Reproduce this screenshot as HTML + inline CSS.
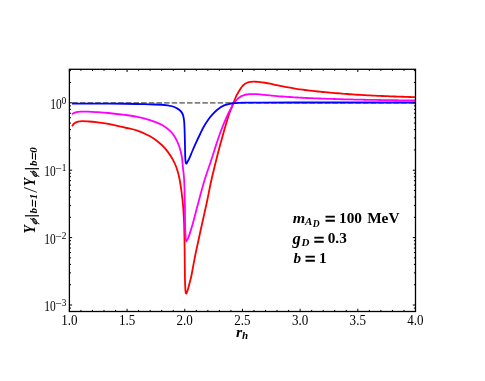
<!DOCTYPE html>
<html><head><meta charset="utf-8"><title>plot</title>
<style>
html,body{margin:0;padding:0;background:#fff;}
body{width:485px;height:381px;overflow:hidden;font-family:"Liberation Serif",serif;}
svg{display:block;will-change:transform;}
text{font-family:"Liberation Serif",serif;fill:#000;}
</style></head><body>
<svg width="485" height="381" viewBox="0 0 485 381">
<rect width="485" height="381" fill="#fff"/>
<defs><clipPath id="cp"><rect x="69.4" y="69.3" width="346.1" height="242.2"/></clipPath></defs>
<g clip-path="url(#cp)" fill="none" stroke-linejoin="round">
<path d="M64.65,102.9H415.5" stroke="#808080" stroke-width="1.9" stroke-dasharray="5.5,2.15"/>
<path d="M72.05,126.30C72.26,125.98 72.82,124.97 73.30,124.40C73.78,123.84 74.12,123.37 74.90,122.91C75.68,122.45 76.77,121.92 78.00,121.62C79.23,121.33 80.63,121.16 82.30,121.14C83.97,121.11 85.73,121.28 88.00,121.46C90.27,121.63 92.52,121.78 95.90,122.19C99.28,122.59 103.45,122.99 108.30,123.88C113.15,124.78 120.15,126.43 125.00,127.55C129.85,128.67 133.23,129.16 137.40,130.60C141.57,132.04 146.67,134.43 150.00,136.20C153.33,137.97 154.92,139.22 157.40,141.20C159.88,143.18 162.63,145.50 164.90,148.05C167.17,150.61 169.35,153.95 171.00,156.52C172.65,159.09 173.71,161.10 174.80,163.50C175.89,165.90 176.73,168.15 177.55,170.90C178.38,173.65 179.07,176.42 179.75,180.00C180.43,183.58 181.06,188.27 181.60,192.40C182.14,196.53 182.63,200.68 183.00,204.80C183.37,208.92 183.61,213.73 183.80,217.10C183.99,220.47 184.03,220.58 184.15,225.00C184.28,229.42 184.44,236.93 184.55,243.60C184.66,250.27 184.74,259.60 184.80,265.00C184.86,270.40 184.84,272.67 184.90,276.00C184.96,279.33 185.07,282.67 185.15,285.00C185.23,287.33 185.31,288.73 185.40,290.00C185.49,291.27 185.57,292.00 185.70,292.60C185.83,293.20 186.02,293.57 186.20,293.60C186.38,293.63 186.58,293.27 186.80,292.80C187.02,292.33 187.20,291.77 187.50,290.80C187.80,289.83 188.20,288.50 188.60,287.00C189.00,285.50 189.44,283.63 189.90,281.80C190.36,279.97 190.77,278.80 191.35,276.00C191.93,273.20 192.71,268.67 193.40,265.00C194.09,261.33 194.91,256.95 195.50,254.00C196.09,251.05 195.90,252.13 196.95,247.30C198.00,242.47 200.15,232.50 201.80,225.00C203.45,217.50 205.25,209.80 206.85,202.30C208.45,194.80 209.62,187.88 211.40,180.00C213.18,172.12 215.92,161.30 217.50,155.00C219.08,148.70 219.70,146.60 220.90,142.20C222.10,137.80 223.45,132.93 224.70,128.60C225.95,124.27 227.41,119.30 228.40,116.20C229.39,113.10 230.07,111.52 230.65,110.00C231.23,108.48 231.34,108.50 231.90,107.10C232.46,105.70 233.32,103.37 234.00,101.60C234.68,99.83 235.50,97.68 236.00,96.50C236.50,95.32 236.63,95.17 237.00,94.50C237.37,93.83 237.79,93.17 238.20,92.50C238.61,91.83 239.03,91.17 239.45,90.50C239.87,89.83 240.26,89.17 240.70,88.50C241.14,87.83 241.52,87.17 242.10,86.50C242.68,85.83 243.55,85.03 244.20,84.50C244.85,83.97 245.37,83.65 246.00,83.30C246.63,82.95 247.25,82.62 248.00,82.40C248.75,82.18 249.48,82.08 250.50,81.95C251.52,81.83 253.02,81.67 254.10,81.65C255.18,81.63 256.02,81.78 257.00,81.85C257.98,81.92 258.67,81.89 260.00,82.05C261.33,82.20 263.33,82.49 265.00,82.76C266.67,83.03 268.33,83.33 270.00,83.67C271.67,84.00 273.33,84.41 275.00,84.77C276.67,85.13 278.33,85.49 280.00,85.83C281.67,86.17 283.33,86.50 285.00,86.82C286.67,87.14 288.33,87.44 290.00,87.73C291.67,88.02 293.33,88.30 295.00,88.56C296.67,88.83 298.33,89.08 300.00,89.32C301.67,89.56 303.33,89.78 305.00,90.00C306.67,90.22 308.33,90.43 310.00,90.63C311.67,90.83 313.33,91.02 315.00,91.20C316.67,91.38 318.33,91.56 320.00,91.72C321.67,91.89 323.33,92.05 325.00,92.20C326.67,92.36 328.33,92.50 330.00,92.64C331.67,92.79 333.33,92.92 335.00,93.05C336.67,93.18 338.33,93.31 340.00,93.43C341.67,93.55 343.33,93.64 345.00,93.78C346.67,93.91 348.33,94.11 350.00,94.23C351.67,94.36 353.33,94.42 355.00,94.54C356.67,94.65 358.33,94.83 360.00,94.94C361.67,95.05 363.33,95.12 365.00,95.20C366.67,95.29 368.33,95.37 370.00,95.45C371.67,95.53 373.33,95.61 375.00,95.69C376.67,95.76 378.33,95.83 380.00,95.91C381.67,95.98 383.33,96.05 385.00,96.11C386.67,96.18 388.33,96.25 390.00,96.31C391.67,96.37 393.33,96.43 395.00,96.49C396.67,96.55 398.33,96.61 400.00,96.67C401.67,96.73 403.33,96.78 405.00,96.83C406.67,96.89 408.33,96.94 410.00,96.99C411.67,97.04 414.07,97.11 415.00,97.14C415.93,97.17 415.50,97.16 415.60,97.16" stroke="#ff0000" stroke-width="1.8"/>
<path d="M72.05,114.25C72.29,114.08 73.01,113.54 73.50,113.25C73.99,112.97 74.25,112.79 75.00,112.56C75.75,112.32 76.98,112.03 78.00,111.86C79.02,111.70 79.43,111.60 81.10,111.57C82.77,111.54 85.53,111.59 88.00,111.68C90.47,111.77 92.52,111.87 95.90,112.09C99.28,112.31 103.45,112.53 108.30,113.00C113.15,113.47 120.15,114.26 125.00,114.90C129.85,115.54 133.27,115.97 137.40,116.83C141.53,117.69 145.68,118.68 149.80,120.04C153.92,121.40 158.67,123.14 162.10,125.00C165.53,126.87 168.25,129.18 170.40,131.22C172.55,133.26 173.68,135.12 175.00,137.25C176.32,139.38 177.35,141.62 178.30,144.00C179.25,146.38 180.08,149.15 180.70,151.50C181.32,153.85 181.59,155.07 182.00,158.10C182.41,161.13 182.79,166.05 183.15,169.70C183.51,173.35 183.86,174.15 184.15,180.00C184.44,185.85 184.74,197.30 184.90,204.80C185.06,212.30 184.97,219.57 185.10,225.00C185.22,230.43 185.51,234.87 185.65,237.40C185.79,239.93 185.83,239.55 185.95,240.20C186.07,240.85 186.19,241.25 186.35,241.30C186.51,241.35 186.69,240.87 186.90,240.50C187.11,240.13 187.32,239.68 187.60,239.10C187.88,238.52 187.80,239.35 188.60,237.00C189.40,234.65 190.77,230.78 192.40,225.00C194.03,219.22 196.37,209.80 198.40,202.30C200.43,194.80 202.57,186.68 204.60,180.00C206.62,173.32 209.17,166.37 210.55,162.20C211.93,158.03 211.89,158.13 212.90,155.00C213.91,151.87 215.27,147.40 216.60,143.40C217.93,139.40 219.35,135.12 220.90,131.00C222.45,126.88 224.67,121.62 225.90,118.70C227.13,115.78 227.47,115.22 228.30,113.50C229.13,111.78 230.05,110.05 230.90,108.40C231.75,106.75 232.55,104.88 233.40,103.60C234.25,102.32 235.23,101.52 236.00,100.70C236.77,99.88 237.32,99.32 238.00,98.70C238.68,98.08 239.43,97.47 240.10,97.00C240.77,96.53 241.32,96.23 242.00,95.90C242.68,95.58 243.45,95.28 244.20,95.05C244.95,94.82 245.67,94.65 246.50,94.50C247.33,94.35 248.12,94.22 249.20,94.15C250.28,94.08 251.70,94.09 253.00,94.10C254.30,94.11 255.50,94.13 257.00,94.20C258.50,94.27 260.33,94.38 262.00,94.53C263.67,94.67 265.33,94.91 267.00,95.09C268.67,95.27 270.33,95.44 272.00,95.60C273.67,95.77 275.33,95.92 277.00,96.06C278.67,96.21 280.33,96.35 282.00,96.48C283.67,96.61 285.33,96.73 287.00,96.84C288.67,96.96 290.33,97.07 292.00,97.18C293.67,97.28 295.33,97.38 297.00,97.48C298.67,97.57 300.33,97.66 302.00,97.75C303.67,97.83 305.33,97.91 307.00,97.99C308.67,98.07 310.33,98.14 312.00,98.22C313.67,98.29 315.33,98.36 317.00,98.42C318.67,98.49 320.33,98.55 322.00,98.61C323.67,98.67 325.33,98.73 327.00,98.78C328.67,98.84 330.33,98.89 332.00,98.94C333.67,98.99 335.33,99.04 337.00,99.09C338.67,99.14 340.33,99.18 342.00,99.23C343.67,99.27 345.33,99.31 347.00,99.35C348.67,99.40 350.33,99.44 352.00,99.47C353.67,99.51 355.33,99.55 357.00,99.59C358.67,99.62 360.33,99.66 362.00,99.69C363.67,99.72 365.33,99.76 367.00,99.79C368.67,99.82 370.33,99.85 372.00,99.88C373.67,99.91 375.33,99.94 377.00,99.97C378.67,99.99 380.33,100.02 382.00,100.05C383.67,100.08 385.33,100.10 387.00,100.13C388.67,100.15 390.33,100.18 392.00,100.20C393.67,100.22 395.33,100.25 397.00,100.27C398.67,100.29 400.33,100.31 402.00,100.34C403.67,100.36 405.33,100.38 407.00,100.40C408.67,100.42 410.57,100.44 412.00,100.46C413.43,100.47 415.00,100.49 415.60,100.50" stroke="#ff00ff" stroke-width="1.8"/>
<path d="M72.00,103.70C75.00,103.70 83.67,103.70 90.00,103.70C96.33,103.70 104.17,103.69 110.00,103.70C115.83,103.71 120.50,103.70 125.00,103.75C129.50,103.80 132.87,103.89 137.00,104.00C141.13,104.11 145.62,104.28 149.80,104.40C153.98,104.53 158.40,104.44 162.10,104.75C165.80,105.06 169.45,105.61 172.00,106.25C174.55,106.89 175.97,107.81 177.40,108.60C178.83,109.39 179.73,110.10 180.60,111.00C181.47,111.90 182.10,112.92 182.60,114.00C183.10,115.08 183.33,116.17 183.60,117.50C183.87,118.83 184.03,119.92 184.20,122.00C184.37,124.08 184.47,125.92 184.60,130.00C184.73,134.08 184.90,142.17 185.00,146.50C185.10,150.83 185.12,153.65 185.20,156.00C185.27,158.35 185.36,159.48 185.45,160.60C185.54,161.72 185.62,162.20 185.75,162.70C185.88,163.20 186.07,163.55 186.25,163.60C186.43,163.65 186.62,163.33 186.85,163.00C187.07,162.67 187.19,162.38 187.60,161.60C188.01,160.82 188.43,160.23 189.30,158.30C190.17,156.37 191.62,152.73 192.80,150.00C193.98,147.27 195.22,144.48 196.40,141.90C197.58,139.32 198.70,136.98 199.90,134.50C201.10,132.02 202.22,129.47 203.60,127.00C204.98,124.53 206.63,121.84 208.20,119.65C209.77,117.46 211.48,115.51 213.00,113.85C214.52,112.19 215.55,111.07 217.30,109.70C219.05,108.33 221.43,106.63 223.50,105.65C225.57,104.67 228.05,104.21 229.70,103.80C231.35,103.39 232.02,103.35 233.40,103.20C234.78,103.05 236.15,102.98 238.00,102.90C239.85,102.82 240.83,102.76 244.50,102.70C248.17,102.64 250.75,102.58 260.00,102.55C269.25,102.52 285.00,102.51 300.00,102.50C315.00,102.49 330.75,102.50 350.00,102.50C369.25,102.50 404.58,102.50 415.50,102.50" stroke="#0000ff" stroke-width="1.8"/>
</g>
<rect x="69.4" y="69.3" width="346.10" height="242.20" fill="none" stroke="#000" stroke-width="1.3"/>
<path d="M69.40,311.50v-2.7M69.40,69.30v2.7M80.94,311.50v-1.6M80.94,69.30v1.6M92.47,311.50v-1.6M92.47,69.30v1.6M104.01,311.50v-1.6M104.01,69.30v1.6M115.55,311.50v-1.6M115.55,69.30v1.6M127.08,311.50v-2.7M127.08,69.30v2.7M138.62,311.50v-1.6M138.62,69.30v1.6M150.16,311.50v-1.6M150.16,69.30v1.6M161.69,311.50v-1.6M161.69,69.30v1.6M173.23,311.50v-1.6M173.23,69.30v1.6M184.77,311.50v-2.7M184.77,69.30v2.7M196.30,311.50v-1.6M196.30,69.30v1.6M207.84,311.50v-1.6M207.84,69.30v1.6M219.38,311.50v-1.6M219.38,69.30v1.6M230.91,311.50v-1.6M230.91,69.30v1.6M242.45,311.50v-2.7M242.45,69.30v2.7M253.99,311.50v-1.6M253.99,69.30v1.6M265.52,311.50v-1.6M265.52,69.30v1.6M277.06,311.50v-1.6M277.06,69.30v1.6M288.60,311.50v-1.6M288.60,69.30v1.6M300.13,311.50v-2.7M300.13,69.30v2.7M311.67,311.50v-1.6M311.67,69.30v1.6M323.21,311.50v-1.6M323.21,69.30v1.6M334.74,311.50v-1.6M334.74,69.30v1.6M346.28,311.50v-1.6M346.28,69.30v1.6M357.82,311.50v-2.7M357.82,69.30v2.7M369.35,311.50v-1.6M369.35,69.30v1.6M380.89,311.50v-1.6M380.89,69.30v1.6M392.43,311.50v-1.6M392.43,69.30v1.6M403.96,311.50v-1.6M403.96,69.30v1.6M415.50,311.50v-2.7M415.50,69.30v2.7M69.40,308.08h1.6M415.50,308.08h-1.6M69.40,305.00h2.7M415.50,305.00h-2.7M69.40,284.71h1.6M415.50,284.71h-1.6M69.40,272.84h1.6M415.50,272.84h-1.6M69.40,264.42h1.6M415.50,264.42h-1.6M69.40,257.89h1.6M415.50,257.89h-1.6M69.40,252.55h1.6M415.50,252.55h-1.6M69.40,248.04h1.6M415.50,248.04h-1.6M69.40,244.13h1.6M415.50,244.13h-1.6M69.40,240.68h1.6M415.50,240.68h-1.6M69.40,237.60h2.7M415.50,237.60h-2.7M69.40,217.31h1.6M415.50,217.31h-1.6M69.40,205.44h1.6M415.50,205.44h-1.6M69.40,197.02h1.6M415.50,197.02h-1.6M69.40,190.49h1.6M415.50,190.49h-1.6M69.40,185.15h1.6M415.50,185.15h-1.6M69.40,180.64h1.6M415.50,180.64h-1.6M69.40,176.73h1.6M415.50,176.73h-1.6M69.40,173.28h1.6M415.50,173.28h-1.6M69.40,170.20h2.7M415.50,170.20h-2.7M69.40,149.91h1.6M415.50,149.91h-1.6M69.40,138.04h1.6M415.50,138.04h-1.6M69.40,129.62h1.6M415.50,129.62h-1.6M69.40,123.09h1.6M415.50,123.09h-1.6M69.40,117.75h1.6M415.50,117.75h-1.6M69.40,113.24h1.6M415.50,113.24h-1.6M69.40,109.33h1.6M415.50,109.33h-1.6M69.40,105.88h1.6M415.50,105.88h-1.6M69.40,102.80h2.7M415.50,102.80h-2.7M69.40,82.51h1.6M415.50,82.51h-1.6M69.40,70.64h1.6M415.50,70.64h-1.6" stroke="#000" stroke-width="1.0" fill="none"/>
<g font-size="15">
<text transform="translate(69.35,325.1) scale(0.87,1)" text-anchor="middle">1.0</text><text transform="translate(127.03,325.1) scale(0.87,1)" text-anchor="middle">1.5</text><text transform="translate(184.72,325.1) scale(0.87,1)" text-anchor="middle">2.0</text><text transform="translate(242.40,325.1) scale(0.87,1)" text-anchor="middle">2.5</text><text transform="translate(300.08,325.1) scale(0.87,1)" text-anchor="middle">3.0</text><text transform="translate(357.77,325.1) scale(0.87,1)" text-anchor="middle">3.5</text><text transform="translate(415.45,325.1) scale(0.87,1)" text-anchor="middle">4.0</text>
<text transform="translate(61.75,109.00) scale(0.8,1)" text-anchor="end" font-size="14.3">10</text><text x="61.55" y="103.55" font-size="9.6">0</text><text transform="translate(55.75,176.40) scale(0.8,1)" text-anchor="end" font-size="14.3">10</text><text x="55.2" y="170.95" font-size="9.3"><tspan font-size="11.4" dy="1.2">−</tspan><tspan dy="-0.9" dx="0.2">1</tspan></text><text transform="translate(55.75,243.80) scale(0.8,1)" text-anchor="end" font-size="14.3">10</text><text x="55.2" y="238.35" font-size="9.3"><tspan font-size="11.4" dy="1.2">−</tspan><tspan dy="-0.9" dx="0.2">2</tspan></text><text transform="translate(55.75,311.20) scale(0.8,1)" text-anchor="end" font-size="14.3">10</text><text x="55.2" y="305.75" font-size="9.3"><tspan font-size="11.4" dy="1.2">−</tspan><tspan dy="-0.9" dx="0.2">3</tspan></text>
</g>
<g font-weight="bold" font-size="15.3">
<text transform="translate(292.7,222.85) scale(1.09,1)" font-size="14.7" font-style="italic">m</text>
<text x="305.1" y="224.8" font-size="11" font-style="italic">A</text>
<text x="312.8" y="226.8" font-size="9.5" font-style="italic">D</text>
<text transform="translate(324.8,226.25) scale(1,1.12)" font-size="19.5" stroke="#000" stroke-width="0.25">=</text>
<text x="339.0" y="222.9" word-spacing="1.4">100 MeV</text>
<text x="292.6" y="244.3" font-size="16.5" font-style="italic">g</text>
<text x="301.6" y="246.45" font-size="11" font-style="italic">D</text>
<text transform="translate(313.5,247.15) scale(1,1.12)" font-size="19.5" stroke="#000" stroke-width="0.25">=</text>
<text x="327.7" y="243.4">0.3</text>
<text x="293.5" y="262.9" font-size="15.2" font-style="italic">b</text>
<text transform="translate(304.7,266.1) scale(1,1.12)" font-size="19.5" stroke="#000" stroke-width="0.25">=</text>
<text x="318.9" y="262.9">1</text>
<text transform="translate(235.9,336.9) scale(1.1,1)" font-size="14.5" font-style="italic">r</text>
<text x="241.9" y="339.0" font-size="11" font-style="italic">h</text>
<g font-size="16">
<text transform="translate(34.9,233.5) rotate(-90) scale(0.85,1)" font-style="italic">Y</text>
<text transform="translate(37.2,224.9) rotate(-90) skewX(-24)" font-size="10" font-style="italic" stroke="#000" stroke-width="0.25">ϕ</text>
<rect x="24.9" y="215.2" width="14.1" height="1.2"/>
<text transform="translate(37.3,213.55) rotate(-90)" font-size="11" font-style="italic">b</text><text transform="translate(38.85,208.9) rotate(-90) scale(1,1.07) skewX(-17)" font-size="14.2" font-style="italic">=</text><text transform="translate(37.1,199.2) rotate(-90)" font-size="11" font-style="italic">1</text>
<text transform="translate(36.7,192.0) rotate(-90) scale(0.75,1)" font-size="19" font-style="italic">/</text>
<text transform="translate(34.9,186.3) rotate(-90) scale(0.85,1)" font-style="italic">Y</text>
<text transform="translate(37.2,177.8) rotate(-90) skewX(-24)" font-size="10" font-style="italic" stroke="#000" stroke-width="0.25">ϕ</text>
<rect x="24.9" y="168.1" width="14.1" height="1.2"/>
<text transform="translate(37.3,166.05) rotate(-90)" font-size="11" font-style="italic">b</text><text transform="translate(38.85,161.8) rotate(-90) scale(1,1.07) skewX(-17)" font-size="14.2" font-style="italic">=</text><text transform="translate(37.1,152.8) rotate(-90)" font-size="11" font-style="italic">0</text>
</g>
</g>
</svg>
</body></html>
